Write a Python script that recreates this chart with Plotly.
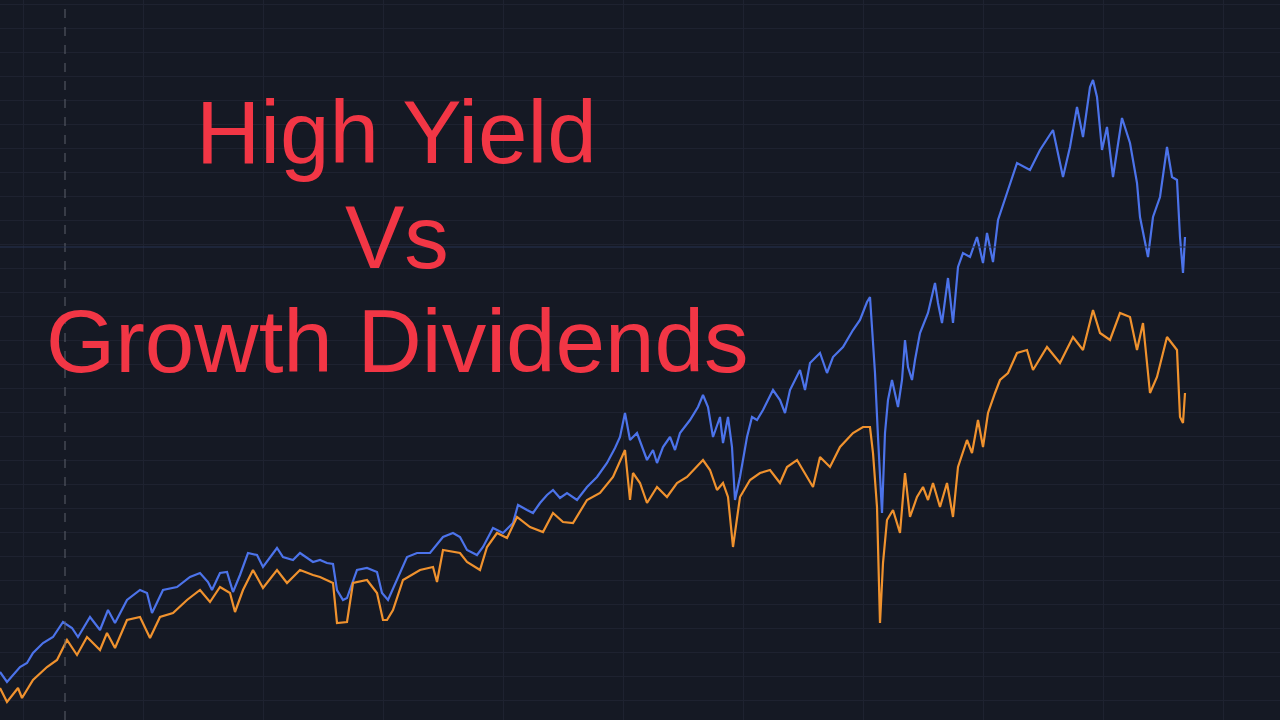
import numpy as np
import pandas as pd
import plotly.graph_objects as go

# months since the first bar (Oct 2012) and index level for each series
growth_months = [
    0.0, 0.7, 2.0, 2.7, 3.3, 4.3, 5.3, 6.3, 7.2, 7.8,
    9.0, 10.0, 10.8, 11.5, 12.7, 14.0, 14.7, 15.2, 16.3, 17.7,
    19.0, 20.0, 20.8, 21.2, 22.0, 22.7, 23.3, 24.0, 24.8, 25.7,
    26.3, 27.7, 28.3, 29.3, 30.0, 31.3, 32.0, 32.7, 33.3, 33.7,
    34.3, 34.7, 35.7, 36.7, 37.7, 38.2, 38.8, 39.7, 40.7, 41.7,
    43.0, 44.3, 45.3, 46.0, 46.7, 47.7, 48.3, 49.3, 50.3, 51.3,
    51.8, 52.7, 53.3, 54.0, 54.7, 55.3, 56.0, 56.7, 57.7, 58.7,
    59.7, 60.7, 61.5, 62.0, 62.5, 63.0, 63.7,
    64.7, 65.3, 65.7, 66.3, 67.0, 67.5, 68.0, 69.0, 69.8, 70.3,
    70.8, 71.3, 72.0, 72.3, 72.8, 73.2, 73.5, 74.0, 74.7, 75.2,
    75.7, 76.3, 77.3, 78.0, 78.5, 79.0, 80.0, 80.5, 81.0, 82.0,
    82.7, 83.3, 84.3, 85.3, 86.0, 86.7,
    87.0, 87.3, 87.5, 87.8, 88.2, 88.5, 88.8, 89.2, 89.5, 89.8,
    90.2, 90.5, 90.8, 91.2, 91.5, 92.0, 92.8, 93.5, 93.8, 94.2,
    94.8, 95.3, 95.8, 96.3, 97.0, 97.7, 98.3, 98.7, 99.3, 99.8,
    100.7, 101.7, 103.0, 104.0, 105.3, 106.3, 107.0, 107.7, 108.3, 109.0,
    109.3, 109.7, 110.2, 110.7, 111.3, 112.2, 113.0, 113.7, 114.0, 114.8,
    115.3, 116.0, 116.7, 117.2, 117.7, 118.0, 118.3, 118.5,
]
growth_level = [
    48, 38, 53, 57, 67, 77, 83, 98, 92, 83,
    103, 90, 110, 97, 120, 130, 127, 107, 130, 133,
    143, 147, 138, 130, 147, 148, 128, 145, 167, 165,
    153, 172, 163, 160, 167, 158, 160, 157, 156, 130,
    120, 122, 150, 152, 148, 127, 120, 140, 163, 167,
    167, 183, 187, 183, 170, 165, 173, 192, 187, 197,
    215, 210, 207, 217, 225, 230, 222, 227, 220, 233,
    243, 257, 272, 283, 307, 280, 287,
    260, 270, 257, 273, 283, 270, 287, 300, 313, 325,
    313, 283, 303, 277, 303, 273, 220, 243, 283, 303,
    300, 310, 330, 320, 307, 330, 350, 330, 357, 367,
    347, 363, 373, 390, 400, 418,
    423, 377, 347, 283, 207, 287, 320, 340, 327, 313,
    340, 380, 353, 340, 360, 387, 407, 437, 417, 397,
    442, 397, 453, 467, 463, 483, 457, 487, 458, 500,
    527, 557, 550, 570, 590, 543, 573, 613, 583, 633,
    640, 623, 570, 593, 543, 602, 577, 537, 503, 463,
    503, 523, 573, 543, 540, 483, 447, 483,
]

yield_months = [
    0.0, 0.7, 1.8, 2.2, 3.3, 4.7, 5.7, 6.7, 7.7, 8.7,
    10.0, 10.7, 11.5, 12.7, 14.0, 15.0, 16.0, 17.3, 18.7, 20.0,
    21.0, 22.0, 23.0, 23.5, 24.3, 25.3, 26.3, 27.7, 28.7, 30.0,
    31.3, 32.0, 33.3, 33.7, 34.7, 35.3, 36.7, 37.7, 38.3, 38.7,
    39.3, 40.3, 42.0, 43.3, 43.7, 44.3, 46.0, 46.7, 48.0, 48.7,
    49.7, 50.7, 51.7, 53.0, 54.3, 55.3, 56.3, 57.3, 58.7, 60.0,
    61.3, 62.5, 63.0, 63.3,
    64.0, 64.7, 65.7, 66.7, 67.7, 68.7, 70.3, 71.0, 71.7, 72.3,
    72.8, 73.3, 74.0, 75.0, 76.0, 77.0, 78.0, 78.7, 79.7, 80.7,
    81.3, 82.0, 83.0, 84.0, 85.3, 86.3,
    87.0, 87.3, 87.7, 88.0, 88.3, 88.7, 89.3, 90.0, 90.5, 91.0,
    91.7, 92.3, 92.8, 93.3, 94.0, 94.7, 95.3, 95.8, 96.7, 97.2,
    97.8, 98.3, 98.8, 99.5, 100.0, 100.8,
    101.7, 102.7, 103.3, 104.7, 106.0, 107.3, 108.3, 109.3, 110.0, 111.0,
    112.0, 113.0, 113.7, 114.3, 115.0, 115.7, 116.7, 117.7, 118.0, 118.3,
    118.5,
]
yield_level = [
    32, 18, 32, 22, 40, 53, 60, 80, 65, 83,
    70, 87, 72, 100, 103, 82, 103, 107, 120, 130,
    118, 133, 127, 108, 130, 150, 132, 150, 137, 150,
    145, 143, 137, 97, 98, 137, 140, 127, 100, 100,
    110, 140, 150, 153, 138, 170, 167, 158, 150, 173,
    187, 182, 203, 193, 188, 207, 198, 197, 220, 227,
    243, 270, 220, 247,
    237, 217, 233, 223, 237, 243, 260, 250, 230, 237,
    223, 173, 223, 240, 247, 250, 237, 253, 260, 243,
    233, 263, 253, 273, 287, 293,
    293, 267, 213, 97, 157, 200, 210, 187, 247, 203,
    223, 233, 220, 237, 213, 237, 203, 253, 280, 267,
    300, 273, 307, 327, 340, 347,
    367, 370, 350, 373, 357, 383, 370, 410, 387, 380,
    407, 403, 370, 397, 327, 343, 383, 370, 303, 297,
    327,
]

title_lines = ["High Yield", "Vs", "Growth Dividends"]

assert len(growth_months) == len(growth_level)
assert len(yield_months) == len(yield_level)

start = pd.Timestamp("2012-10-22")


def to_dates(months):
    return start + pd.to_timedelta(np.array(months) * 30.4375, unit="D")


fig = go.Figure()
fig.add_trace(go.Scatter(x=to_dates(growth_months), y=growth_level, mode="lines",
                         line=dict(color="#4c73ea", width=2.2), name="Growth"))
fig.add_trace(go.Scatter(x=to_dates(yield_months), y=yield_level, mode="lines",
                         line=dict(color="#f0922e", width=2.2), name="High Yield"))

# crosshair lines
fig.add_shape(type="line", xref="x", yref="paper", x0=to_dates([6.5])[0], x1=to_dates([6.5])[0],
              y0=0, y1=1, line=dict(color="#5d606b", width=1, dash="dash"))
fig.add_shape(type="line", xref="paper", yref="y", x0=0, x1=1, y0=473, y1=473,
              line=dict(color="#263250", width=1))

for text, ypos in zip(title_lines, [0.817, 0.671, 0.526]):
    fig.add_annotation(text=text, xref="paper", yref="paper", x=0.31, y=ypos,
                       xanchor="center", yanchor="middle", showarrow=False,
                       font=dict(family="Liberation Sans", size=89, color="#f23645"))

fig.update_xaxes(range=[start, to_dates([128])[0]], showticklabels=False,
                 showgrid=True, gridcolor="#1e2230", gridwidth=1,
                 dtick="M12", tick0="2013-01-01", zeroline=False, showline=False)
fig.update_yaxes(range=[0, 720], showticklabels=False, showgrid=True,
                 gridcolor="#1e2230", gridwidth=1, dtick=24, tick0=20,
                 zeroline=False, showline=False)
fig.update_layout(width=1280, height=720, margin=dict(l=0, r=0, t=0, b=0),
                  paper_bgcolor="#151924", plot_bgcolor="#151924", showlegend=False)

# drop the page's default body margin so the chart sits at the window corner
fig.write_html("out.html", config={"displayModeBar": False},
               post_script="document.body.style.margin='0';document.body.style.background='#151924';")
